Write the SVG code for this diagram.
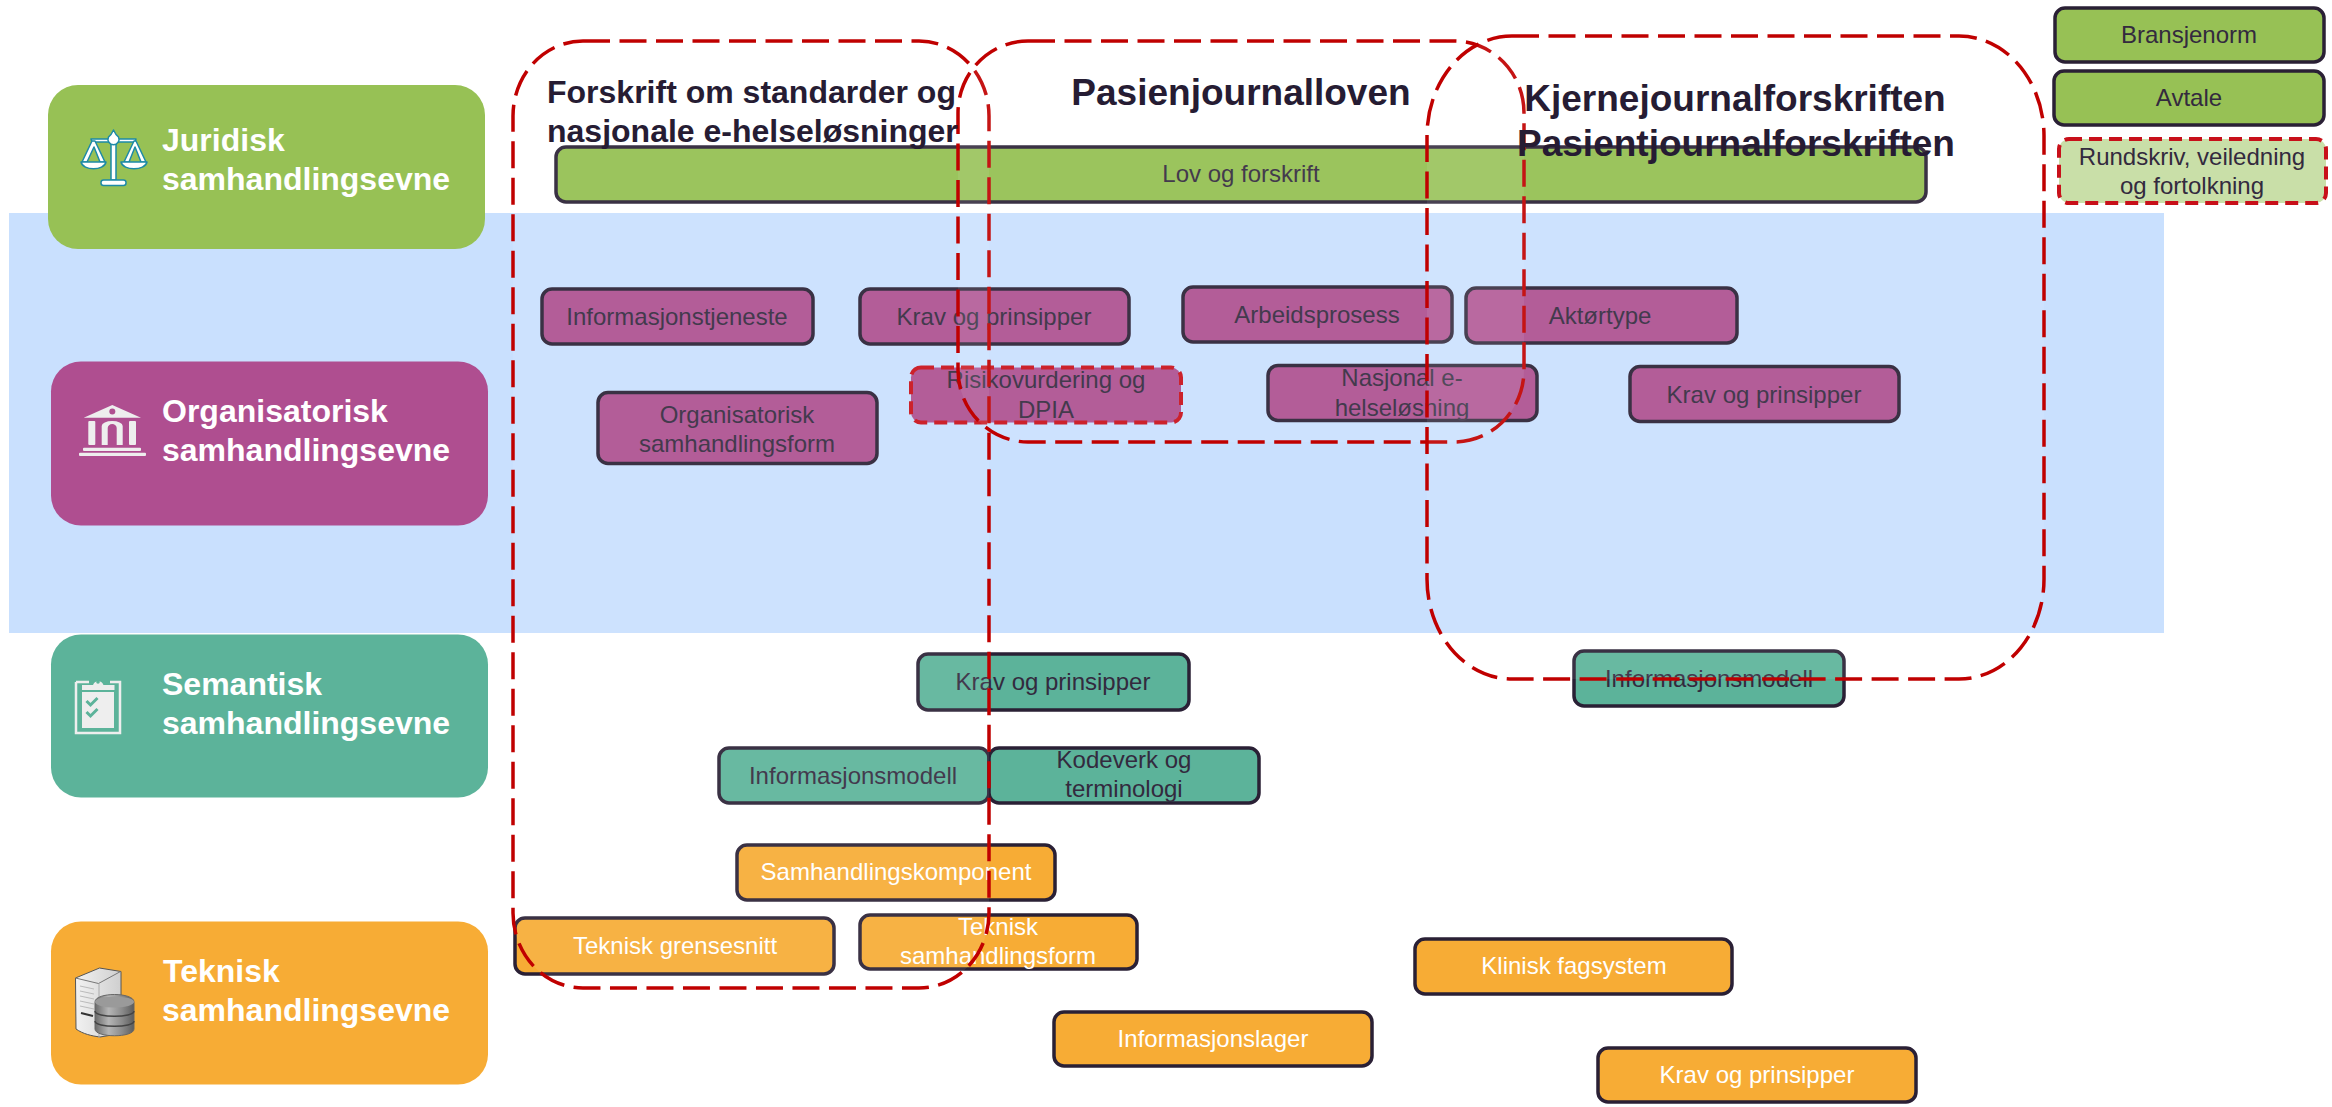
<svg xmlns="http://www.w3.org/2000/svg" width="2332" height="1107" viewBox="0 0 2332 1107">
<style>
text{font-family:"Liberation Sans",Arial,sans-serif}
.pt{font-size:32px;font-weight:700;fill:#fff}
.h{font-size:37px;font-weight:700;fill:#261c33}
.hs{font-size:32px;font-weight:700;fill:#261c33}
.n{font-size:24px;fill:#332a3e;text-anchor:middle}
.l{fill:#fff}
.b{stroke:#2a2035;stroke-width:3.5}
.g{fill:#97c155}.lov{fill:#93bf50}.p{fill:#ad5090}.t{fill:#5cb39a}.o{fill:#f7ac35}
.d{stroke:#c8101a;stroke-width:4;stroke-dasharray:13 7}
.reg{fill:#fff;fill-opacity:.08;stroke:#c00000;stroke-width:3.5;stroke-dasharray:27 9.500}
</style>
<defs>
<linearGradient id="cyl" x1="0" x2="1" y1="0" y2="0"><stop offset="0" stop-color="#6a6a6a"/><stop offset=".35" stop-color="#b5b5b5"/><stop offset=".7" stop-color="#8a8a8a"/><stop offset="1" stop-color="#5c5c5c"/></linearGradient>
<linearGradient id="srv" x1="0" x2="1" y1="0" y2="0"><stop offset="0" stop-color="#f2f2f2"/><stop offset="1" stop-color="#cfcfcf"/></linearGradient>
</defs>
<rect id="band" x="9" y="213" width="2155" height="420" fill="#c9e0fe"/>

<g id="panel-juridisk">
<rect x="48" y="85" width="437" height="164" rx="30" fill="#97c155"/>
<g fill="#fff" stroke="#1d8aa6" stroke-width="1.500" stroke-linejoin="round">
<path d="M91 139h45l-1 3-9 0 0 0h-25l-9 0z"/>
<path d="M92 141l-10 21h5l7-15 6 15h5l-10-21zM134 141l-10 21h5l6-15 6 15h5l-10-21z"/>
<path d="M81 162h25c-2 9-23 9-25 0zM121 162h26c-2 9-24 9-26 0z"/>
<path d="M111 141h5v39h-5z"/>
<path d="M113.500 130l2.500 4.500 2.500 2.500a5.500 5.500 0 1 1-10 0l2.500-2.500z"/>
<rect x="101" y="180" width="25" height="5.500" rx="2.500"/>
</g>
<text class="pt" x="162" y="151">Juridisk</text>
<text class="pt" x="162" y="190">samhandlingsevne</text>
</g>

<g id="panel-organisatorisk">
<rect x="51" y="361.500" width="437" height="164" rx="30" fill="#af4e90"/>
<g fill="#eeeeee">
<path d="M112.300 405l28.700 12.700H83.700z"/>
<circle cx="112.300" cy="411.500" r="3" fill="#af4e90"/>
<rect x="88.300" y="421" width="7" height="24" rx="1"/>
<rect x="129" y="421" width="7" height="24" rx="1"/>
<path d="M101.700 445v-19a10.500 5 0 0 1 21 0v19h-6v-17a4.500 4 0 0 0-9 0v17z"/>
<rect x="83" y="447.700" width="58" height="3.300" rx="1"/>
<rect x="79" y="452.700" width="67" height="3.300" rx="1"/>
</g>
<text class="pt" x="162" y="422">Organisatorisk</text>
<text class="pt" x="162" y="461">samhandlingsevne</text>
</g>

<g id="panel-semantisk">
<rect x="51" y="634.500" width="437" height="163" rx="30" fill="#5cb39a"/>
<g fill="#eeeeee">
<path d="M76 682h13M110 682h10v51H76v-51" fill="none" stroke="#eeeeee" stroke-width="2.500"/>
<path d="M82 690v-5h11a5.500 5.500 0 0 1 10.500 0h11v5z"/>
<rect x="82" y="692" width="32" height="36"/>
<circle cx="98" cy="682" r="1.800" fill="#5cb39a"/>
<path d="M86.500 701l4 4 7-7M86.500 712l4 4 7-7" fill="none" stroke="#5cb39a" stroke-width="3"/>
</g>
<text class="pt" x="162" y="695">Semantisk</text>
<text class="pt" x="162" y="734">samhandlingsevne</text>
</g>

<g id="panel-teknisk">
<rect x="51" y="921.500" width="437" height="163" rx="30" fill="#f7ac35"/>
<path d="M75.500 978l24-10 21.500 3.500v62l-21 3.500c-8-1-17-3-24-8z" fill="url(#srv)" stroke="#555" stroke-width="1"/>
<path d="M75.500 978l23 5.500 22-12" fill="none" stroke="#777" stroke-width="1"/>
<path d="M99 984v54" stroke="#aaa" stroke-width="1"/>
<path d="M80 986l14 3M80 991l14 3M80 996l14 3M80 1001l14 3M80 1006l14 3" stroke="#bbb" stroke-width="1"/>
<path d="M81 1013l12 3" stroke="#333" stroke-width="2"/>
<path d="M95 1002c0-10 39-10 39 0v27c0 9-39 9-39 0z" fill="url(#cyl)" stroke="#666" stroke-width="1"/>
<ellipse cx="114.500" cy="1002" rx="19.500" ry="5.500" fill="#9a9a9a"/>
<path d="M95 1011c0 7 39 7 39 0M95 1021c0 7 39 7 39 0" fill="none" stroke="#444" stroke-width="1.500"/>
<text class="pt" x="163" y="982">Teknisk</text>
<text class="pt" x="162" y="1021">samhandlingsevne</text>
</g>

<g id="node-lov"><rect class="lov b" x="556" y="147" width="1370" height="55" rx="10"/><text class="n" x="1241" y="182">Lov og forskrift</text></g>
<g id="node-informasjonstjeneste"><rect class="p b" x="542" y="289" width="271" height="55" rx="10"/><text class="n" x="677" y="325">Informasjonstjeneste</text></g>
<g id="node-krav-org1"><rect class="p b" x="860" y="289" width="269" height="55" rx="10"/><text class="n" x="994" y="325">Krav og prinsipper</text></g>
<g id="node-arbeidsprosess"><rect class="p b" x="1183" y="287" width="269" height="55" rx="10"/><text class="n" x="1317" y="323">Arbeidsprosess</text></g>
<g id="node-aktortype"><rect class="p b" x="1466" y="288" width="271" height="55" rx="10"/><text class="n" x="1600" y="324">Aktørtype</text></g>
<g id="node-risiko"><rect class="p d" x="911" y="367.500" width="270" height="55" rx="10"/><text class="n" x="1046" y="388">Risikovurdering og</text><text class="n" x="1046" y="418">DPIA</text></g>
<g id="node-nasjonal"><rect class="p b" x="1268" y="365.500" width="269" height="55" rx="10"/><text class="n" x="1402" y="386">Nasjonal e-</text><text class="n" x="1402" y="416">helseløsning</text></g>
<g id="node-krav-org2"><rect class="p b" x="1630" y="366.500" width="269" height="55" rx="10"/><text class="n" x="1764" y="403">Krav og prinsipper</text></g>
<g id="node-orgform"><rect class="p b" x="598" y="392.500" width="279" height="71" rx="10"/><text class="n" x="737" y="423">Organisatorisk</text><text class="n" x="737" y="452">samhandlingsform</text></g>

<g id="node-krav-sem"><rect class="t b" x="918" y="654" width="271" height="56" rx="10"/><text class="n" x="1053" y="690">Krav og prinsipper</text></g>
<g id="node-info-sem1"><rect class="t b" x="719" y="748" width="270" height="55" rx="10"/><text class="n" x="853" y="784">Informasjonsmodell</text></g>
<g id="node-kodeverk"><rect class="t b" x="989" y="748" width="270" height="55" rx="10"/><text class="n" x="1124" y="768">Kodeverk og</text><text class="n" x="1124" y="797">terminologi</text></g>
<g id="node-info-sem2"><rect class="t b" x="1574" y="651" width="270" height="55" rx="10"/><text class="n" x="1709" y="687">Informasjonsmodell</text></g>

<g id="node-samhandlingskomponent"><rect class="o b" x="737" y="845" width="318" height="55" rx="10"/><text class="n l" x="896" y="880" style="fill:#fff">Samhandlingskomponent</text></g>
<g id="node-grensesnitt"><rect class="o b" x="515" y="918" width="319" height="56" rx="10"/><text class="n" x="675" y="954" style="fill:#fff">Teknisk grensesnitt</text></g>
<g id="node-teknform"><rect class="o b" x="860" y="915" width="277" height="54" rx="10"/><text class="n" x="998" y="935" style="fill:#fff">Teknisk</text><text class="n" x="998" y="964" style="fill:#fff">samhandlingsform</text></g>
<g id="node-klinisk"><rect class="o b" x="1415" y="939" width="317" height="55" rx="10"/><text class="n" x="1574" y="974" style="fill:#fff">Klinisk fagsystem</text></g>
<g id="node-lager"><rect class="o b" x="1054" y="1012" width="318" height="54" rx="10"/><text class="n" x="1213" y="1047" style="fill:#fff">Informasjonslager</text></g>
<g id="node-krav-tek"><rect class="o b" x="1598" y="1048" width="318" height="54" rx="10"/><text class="n" x="1757" y="1083" style="fill:#fff">Krav og prinsipper</text></g>

<g id="legend-bransjenorm"><rect class="g b" x="2055" y="8" width="269" height="54" rx="10"/><text class="n" x="2189" y="43">Bransjenorm</text></g>
<g id="legend-avtale"><rect class="g b" x="2054" y="71" width="270" height="54" rx="10"/><text class="n" x="2189" y="106">Avtale</text></g>
<g id="legend-rundskriv"><rect x="2059" y="139" width="267" height="64" rx="10" fill="#c9dfa8" class="d"/><text class="n" x="2192" y="165">Rundskriv, veiledning</text><text class="n" x="2192" y="194">og fortolkning</text></g>

<g id="regions">
<g id="region-forskrift"><rect class="reg" x="513" y="41" width="476" height="947" rx="70" ry="75"/></g>
<g id="region-pasienjournal"><rect class="reg" x="958" y="41" width="566" height="401" rx="70" ry="72"/></g>
<g id="region-kjernejournal"><rect class="reg" x="1427" y="36" width="617" height="643" rx="85" ry="100"/></g>
</g>
<text class="hs" x="547" y="103">Forskrift om standarder og</text>
<text class="hs" x="547" y="142">nasjonale e-helseløsninger</text>
<text class="h" x="1241" y="105" text-anchor="middle">Pasienjournalloven</text>
<text class="h" x="1735" y="111" text-anchor="middle">Kjernejournalforskriften</text>
<text class="h" x="1736" y="156" text-anchor="middle">Pasientjournalforskriften</text>
</svg>
